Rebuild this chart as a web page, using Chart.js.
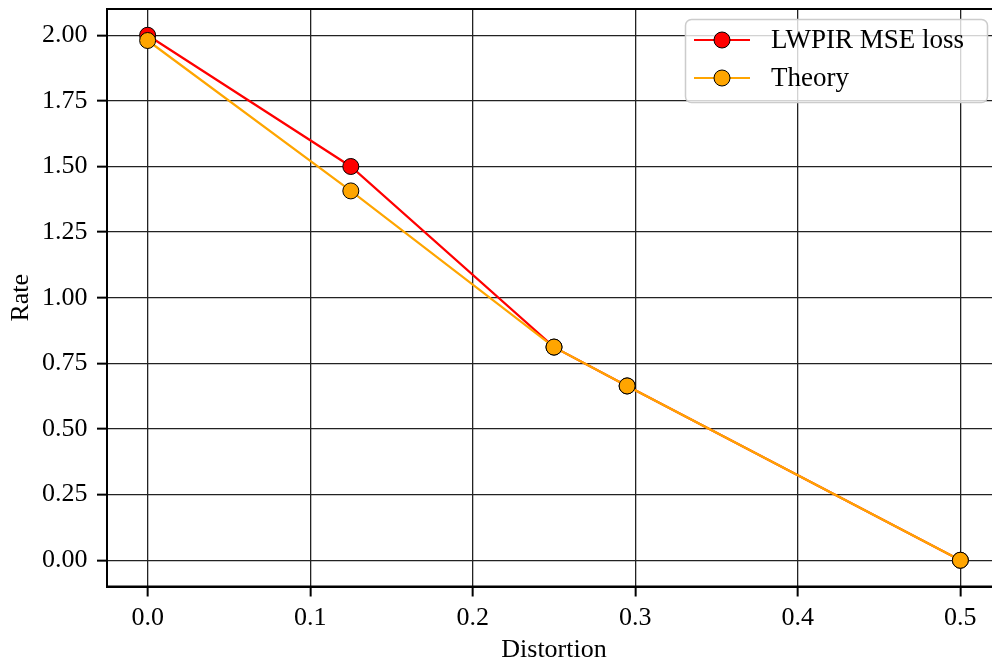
<!DOCTYPE html>
<html>
<head>
<meta charset="utf-8">
<script src="https://cdn.jsdelivr.net/npm/chart.js@4"></script>
<style>
  html, body { margin: 0; padding: 0; overflow: hidden; background: #fff; }
</style>
</head>
<body>
<canvas id="myChart" width="1010" height="666"></canvas>
<script>
// values
const distortion = [0.0, 0.125, 0.25, 0.295, 0.5];
const lwpirRate = [2.0, 1.5, 0.812, 0.664, 0.0];
const theoryRate = [1.98, 1.407, 0.812, 0.664, 0.0];
const xTicks = [0.0, 0.1, 0.2, 0.3, 0.4, 0.5];
const yTicks = [0.0, 0.25, 0.5, 0.75, 1.0, 1.25, 1.5, 1.75, 2.0];

const FONT = "'Liberation Serif', 'DejaVu Serif', serif";

function toPoints(xs, ys) {
  return xs.map((x, i) => ({ x: x, y: ys[i] }));
}

// box round the plot area (top spine etc.)
const frame = {
  id: "frame",
  afterDraw(chart) {
    const { ctx, chartArea: a } = chart;
    ctx.save();
    ctx.strokeStyle = "#000";
    ctx.lineWidth = 2;
    ctx.strokeRect(a.left, a.top, a.right - a.left, a.bottom - a.top);
    ctx.restore();
  },
};

// matplotlib-like legend, line + marker per dataset
const mplLegend = {
  id: "mplLegend",
  afterDraw(chart) {
    const ctx = chart.ctx;
    const x0 = 685, y0 = 19, w = 302, h = 83, r = 6;
    ctx.save();
    ctx.beginPath();
    ctx.roundRect(x0 + 0.5, y0 + 0.5, w, h, r);
    ctx.fillStyle = "rgba(255,255,255,0.8)";
    ctx.fill();
    ctx.strokeStyle = "#cccccc";
    ctx.lineWidth = 1.5;
    ctx.stroke();

    chart.data.datasets.forEach((ds, i) => {
      const y = 40 + i * 38;
      ctx.beginPath();
      ctx.moveTo(694, y);
      ctx.lineTo(750, y);
      ctx.strokeStyle = ds.borderColor;
      ctx.lineWidth = 2;
      ctx.stroke();
      ctx.beginPath();
      ctx.arc(722, y, 8, 0, Math.PI * 2);
      ctx.fillStyle = ds.pointBackgroundColor;
      ctx.fill();
      ctx.strokeStyle = "#000";
      ctx.lineWidth = 1;
      ctx.stroke();
      ctx.fillStyle = "#000";
      ctx.font = "27px " + FONT;
      ctx.textBaseline = "middle";
      ctx.textAlign = "left";
      ctx.fillText(ds.label, 771, y + 1);
    });
    ctx.restore();
  },
};

const ctx = document.getElementById("myChart");

new Chart(ctx, {
  type: "scatter",
  data: {
    datasets: [
      {
        label: "LWPIR MSE loss",
        data: toPoints(distortion, lwpirRate),
        showLine: true,
        borderColor: "#ff0000",
        backgroundColor: "#ff0000",
        pointBackgroundColor: "#ff0000",
        pointBorderColor: "#000",
        pointBorderWidth: 1,
        pointRadius: 8,
        borderWidth: 2.2,
        order: 2,
      },
      {
        label: "Theory",
        data: toPoints(distortion, theoryRate),
        showLine: true,
        borderColor: "#ffa500",
        backgroundColor: "#ffa500",
        pointBackgroundColor: "#ffa500",
        pointBorderColor: "#000",
        pointBorderWidth: 1,
        pointRadius: 8,
        borderWidth: 2.2,
        order: 1,
      },
    ],
  },
  options: {
    responsive: false,
    animation: false,
    devicePixelRatio: 1,
    layout: { padding: { top: 7, right: 2, left: 0, bottom: 0 } },
    plugins: {
      legend: { display: false },
      tooltip: { enabled: false },
    },
    scales: {
      x: {
        type: "linear",
        min: -0.025,
        max: 0.525,
        afterBuildTicks: (scale) => {
          scale.ticks = xTicks.map((v) => ({ value: v }));
        },
        afterFit: (scale) => {
          scale.height = 79.5;
          scale.paddingLeft = 0;
          scale.paddingRight = 0;
        },
        ticks: {
          color: "#000",
          font: { family: FONT, size: 26 },
          padding: 6,
          maxRotation: 0,
          callback: (v) => Number(v).toFixed(1),
        },
        grid: {
          color: "#222",
          lineWidth: 1.3,
          tickLength: 10,
          tickColor: "#000",
          tickWidth: 2,
        },
        border: { display: true, color: "#000", width: 2 },
        title: {
          display: true,
          text: "Distortion",
          color: "#000",
          font: { family: FONT, size: 26 },
          padding: { top: 0, bottom: 0 },
        },
      },
      y: {
        type: "linear",
        min: -0.1,
        max: 2.1,
        afterBuildTicks: (scale) => {
          scale.ticks = yTicks.map((v) => ({ value: v }));
        },
        afterFit: (scale) => {
          scale.width = 107;
          scale.paddingTop = 0;
          scale.paddingBottom = 0;
        },
        ticks: {
          color: "#000",
          font: { family: FONT, size: 26 },
          padding: 9.5,
          callback: (v) => Number(v).toFixed(2),
        },
        grid: {
          color: "#222",
          lineWidth: 1.3,
          tickLength: 10,
          tickColor: "#000",
          tickWidth: 2,
        },
        border: { display: true, color: "#000", width: 2 },
        title: {
          display: true,
          text: "Rate",
          color: "#000",
          font: { family: FONT, size: 26 },
          padding: { top: 6, bottom: 0 },
        },
      },
    },
  },
  plugins: [frame, mplLegend],
});
</script>
</body>
</html>
